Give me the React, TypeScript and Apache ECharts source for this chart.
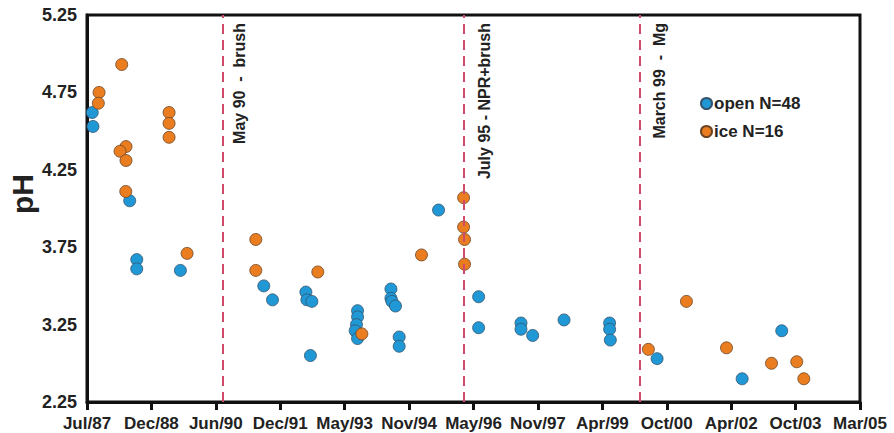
import React, { useEffect, useRef } from "react";
import * as echarts from "echarts";

// ---- axis definitions (as printed on the figure) ----
const EPOCH = "1987-07-01"; // first x tick (Jul/87)
const X_INTERVAL_DAYS = 540;
const X_MAX_DAYS = 6480; // Mar/05
const MONTHS = ["Jan", "Feb", "Mar", "Apr", "May", "Jun", "Jul", "Aug", "Sep", "Oct", "Nov", "Dec"];
const Y_MIN = 2.75;
const Y_MAX = 5.25;
const Y_STEP = 0.5;
const yTickLabels = ["2.25", "3.25", "3.75", "4.25", "4.75", "5.25"];

// ---- open water samples ----
const openDates = [
  "1987-08-14", "1987-08-20", "1988-06-23", "1988-08-21", "1988-08-21", "1989-08-22",
  "1991-07-22", "1991-10-03", "1992-07-09", "1992-07-17", "1992-08-28", "1992-08-16",
  "1993-09-15", "1993-09-15", "1993-09-06", "1993-08-26", "1993-09-15",
  "1994-06-22", "1994-06-22", "1994-06-30", "1994-07-30", "1994-08-30", "1994-08-30",
  "1995-07-26", "1996-06-26", "1996-06-26", "1997-06-16", "1997-06-16", "1997-09-22",
  "1998-06-12", "1999-06-29", "1999-06-29", "1999-07-05", "2000-07-31", "2002-07-14", "2003-06-11",
];
const openPH = [
  4.62, 4.53, 4.05, 3.67, 3.61, 3.6,
  3.5, 3.41, 3.46, 3.41, 3.4, 3.05,
  3.34, 3.3, 3.25, 3.21, 3.16,
  3.48, 3.42, 3.4, 3.37, 3.17, 3.11,
  3.99, 3.43, 3.23, 3.26, 3.22, 3.18,
  3.28, 3.26, 3.22, 3.15, 3.03, 2.9, 3.21,
];

// ---- ice samples ----
const iceDates = [
  "1987-10-10", "1987-10-04", "1988-04-17", "1988-05-23", "1988-04-03", "1988-05-23",
  "1988-05-21", "1989-05-19", "1989-05-19", "1989-05-19", "1989-10-17",
  "1991-05-16", "1991-05-16", "1992-10-17", "1993-10-21", "1995-03-05",
  "1996-02-21", "1996-02-21", "1996-02-29", "1996-02-29",
  "2000-05-19", "2001-04-03", "2002-03-05", "2003-03-17", "2003-10-15", "2003-12-13",
];
const icePH = [
  4.75, 4.68, 4.93, 4.4, 4.37, 4.31,
  4.11, 4.62, 4.55, 4.46, 3.71,
  3.8, 3.6, 3.59, 3.19, 3.7,
  4.07, 3.88, 3.8, 3.64,
  3.09, 3.4, 3.1, 3.0, 3.01, 2.9,
];

// ---- treatment events ----
const eventDates = ["1990-08-15", "1996-02-21", "2000-03-05"];
const eventLabels = ["May 90  -  brush", "July 95 - NPR+brush", "March 99  -  Mg"];

const seriesNames = ["open N=48", "ice N=16"];
const FONT = "'Liberation Sans', Arial, Helvetica, sans-serif";
const TEXT = "#222";

const dayMs = 86400000;
const epochMs = Date.parse(EPOCH + "T00:00:00Z");
const toDays = (d: string) => (Date.parse(d + "T00:00:00Z") - epochMs) / dayMs;
const fmtX = (v: number) => {
  const d = new Date(epochMs + v * dayMs);
  return `${MONTHS[d.getUTCMonth()]}/${String(d.getUTCFullYear() % 100).padStart(2, "0")}`;
};

export default function App() {
  const ref = useRef<HTMLDivElement>(null);
  useEffect(() => {
    if (!ref.current) return;
    const chart = echarts.init(ref.current, undefined, { renderer: "svg" });
    const openData = openDates.map((d, i) => [toDays(d), openPH[i]]);
    const iceData = iceDates.map((d, i) => [toDays(d), icePH[i]]);
    const eventDays = eventDates.map(toDays);

    chart.setOption({
      animation: false,
      backgroundColor: "#fff",
      grid: {
        left: 87,
        right: 34,
        top: 15,
        bottom: 31,
        show: true,
        borderColor: "#111",
        borderWidth: 3,
      },
      legend: {
        orient: "vertical",
        left: 695,
        top: 90,
        itemWidth: 11,
        itemHeight: 11,
        itemGap: 11,
        icon: "circle",
        data: seriesNames,
        textStyle: { fontFamily: FONT, fontWeight: "bold", fontSize: 17, color: TEXT, padding: [0, 0, 0, -3] },
      },
      xAxis: {
        type: "value",
        min: 0,
        max: X_MAX_DAYS,
        interval: X_INTERVAL_DAYS,
        splitLine: { show: false },
        axisLine: { lineStyle: { color: "#111", width: 3 } },
        axisTick: { show: true, length: 8, lineStyle: { color: "#111", width: 3 } },
        axisLabel: {
          formatter: fmtX,
          fontFamily: FONT,
          fontWeight: "bold",
          fontSize: 17,
          color: TEXT,
          margin: 13,
          showMaxLabel: true,
          showMinLabel: true,
        },
      },
      yAxis: {
        type: "value",
        min: Y_MIN,
        max: Y_MAX,
        interval: Y_STEP,
        splitLine: { show: false },
        axisLine: { show: true, lineStyle: { color: "#111", width: 3 } },
        axisTick: { show: false },
        axisLabel: {
          formatter: (v: number) => yTickLabels[Math.round((v - Y_MIN) / Y_STEP)] ?? "",
          fontFamily: FONT,
          fontWeight: "bold",
          fontSize: 18,
          color: TEXT,
          margin: 10,
        },
      },
      series: [
        {
          name: seriesNames[0],
          type: "scatter",
          data: openData,
          symbol: "circle",
          symbolSize: 12,
          itemStyle: { color: "#2198d6", borderColor: "#34536b", borderWidth: 0.8, opacity: 1 },
          z: 3,
        },
        {
          name: seriesNames[1],
          type: "scatter",
          data: iceData,
          symbol: "circle",
          symbolSize: 12,
          itemStyle: { color: "#ea7d20", borderColor: "#6b4424", borderWidth: 0.8, opacity: 1 },
          z: 3,
          markLine: {
            silent: true,
            symbol: ["none", "none"],
            label: { show: false },
            lineStyle: { color: "#d24a6a", type: [10, 6], width: 2 },
            data: eventDays.map((d) => ({ xAxis: d })),
            z: 5,
          },
        },
      ],
    });

    const offsets = [16, 21, 20];
    const graphics: any[] = eventDays.map((d, i) => {
      const p = chart.convertToPixel({ xAxisIndex: 0, yAxisIndex: 0 }, [d, Y_MAX]) as number[];
      return {
        type: "text",
        x: p[0] + offsets[i],
        y: p[1] + 8,
        rotation: Math.PI / 2,
        silent: true,
        style: {
          text: eventLabels[i],
          fill: TEXT,
          font: `bold 16px ${FONT}`,
          textAlign: "right",
          textVerticalAlign: "middle",
        },
      };
    });
    graphics.push({
      type: "text",
      x: 22,
      y: 194,
      rotation: Math.PI / 2,
      silent: true,
      style: {
        text: "pH",
        fill: TEXT,
        font: `bold 30px ${FONT}`,
        textAlign: "center",
        textVerticalAlign: "middle",
      },
    });
    chart.setOption({ graphic: graphics });

    return () => chart.dispose();
  }, []);

  return (
    <div
      ref={ref}
      style={{ position: "absolute", left: 0, top: 0, width: 894, height: 433, background: "#fff" }}
    />
  );
}
